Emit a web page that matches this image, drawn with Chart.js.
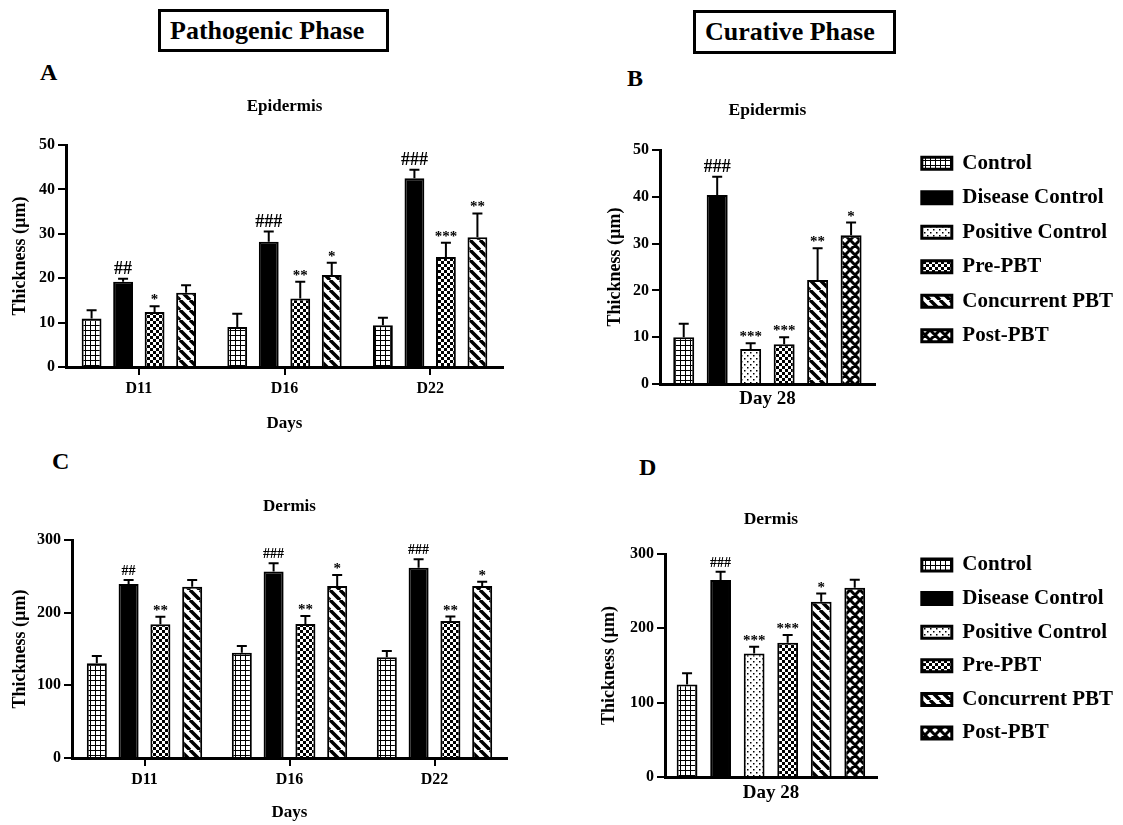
<!DOCTYPE html>
<html>
<head>
<meta charset="utf-8">
<script src="https://cdn.jsdelivr.net/npm/chart.js@4.4.1/dist/chart.umd.min.js"></script>
<style>
  body { margin: 0; background: #fff; }
  #page { position: relative; width: 1123px; height: 825px; overflow: hidden;
          font-family: 'Liberation Serif', 'Times New Roman', serif; font-weight: bold; color: #000; }
  .phase { position: absolute; box-sizing: border-box; border: 3px solid #000;
           font-size: 26px; line-height: 37px; padding-left: 9px; white-space: nowrap; }
  .letter { position: absolute; font-size: 24px; line-height: 24px; }
  canvas { position: absolute; }
</style>
</head>
<body>
<div id="page">
  <div class="phase" style="left:158px;top:9px;width:231px;height:43px">Pathogenic Phase</div>
  <div class="phase" style="left:693px;top:10px;width:203px;height:44px">Curative Phase</div>
  <div class="letter" style="left:40px;top:60px">A</div>
  <div class="letter" style="left:627px;top:66px">B</div>
  <div class="letter" style="left:52px;top:449px">C</div>
  <div class="letter" style="left:639px;top:455px">D</div>
  <canvas id="chartA" width="520" height="347" style="left:0;top:90px"></canvas>
  <canvas id="chartB" width="533" height="319" style="left:590px;top:90px"></canvas>
  <canvas id="chartC" width="520" height="345" style="left:0;top:480px"></canvas>
  <canvas id="chartD" width="533" height="338" style="left:590px;top:480px"></canvas>
</div>
<script>
// ---- data ----
const dayLabels = ['D11', 'D16', 'D22']
const day28Label = ['Day 28']
const groupNames = ['Control', 'Disease Control', 'Positive Control', 'Pre-PBT', 'Concurrent PBT', 'Post-PBT']

// A: epidermis, pathogenic phase (mean, sd, significance marks)
const epiControl = [10.9, 9.0, 9.4]
const epiControlSd = [1.9, 3.0, 1.7]
const epiDisease = [19.2, 28.2, 42.5]
const epiDiseaseSd = [0.7, 2.3, 1.9]
const epiPre = [12.4, 15.4, 24.8]
const epiPreSd = [1.3, 3.8, 3.2]
const epiConc = [16.7, 20.7, 29.2]
const epiConcSd = [1.7, 2.8, 5.4]
const epiDiseaseMarks = ['##', '###', '###']
const epiPreMarks = ['*', '**', '***']
const epiConcMarks = ['', '*', '**']

// B: epidermis, curative phase, day 28 (one value per group, same order as groupNames)
const epiDay28 = [10.0, 40.4, 7.5, 8.5, 22.2, 31.8]
const epiDay28Sd = [2.9, 3.9, 1.2, 1.5, 6.8, 2.7]
const epiDay28Marks = ['', '###', '***', '***', '**', '*']

// C: dermis, pathogenic phase
const derControl = [130.5, 145.0, 138.8]
const derControlSd = [10.0, 9.3, 8.6]
const derDisease = [239.5, 256.5, 261.9]
const derDiseaseSd = [5.5, 11.5, 11.5]
const derPre = [184.0, 184.5, 188.7]
const derPreSd = [10.5, 11.0, 6.0]
const derConc = [235.8, 236.7, 236.7]
const derConcSd = [9.0, 15.0, 6.0]
const derDiseaseMarks = ['##', '###', '###']
const derPreMarks = ['**', '**', '**']
const derConcMarks = ['', '*', '*']

// D: dermis, curative phase, day 28
const derDay28 = [124.5, 265.0, 166.2, 180.5, 235.8, 254.7]
const derDay28Sd = [15.0, 11.0, 9.0, 10.5, 11.0, 10.5]
const derDay28Marks = ['', '###', '***', '***', '*', '']

// ---- fills ----
function pattern(kind) {
  const size = { grid: 5, dots: 6, checker: 6, stripes: 10, diamonds: 10 }[kind]
  const c = document.createElement('canvas')
  c.width = size
  c.height = size
  const g = c.getContext('2d')
  g.fillStyle = '#fff'
  g.fillRect(0, 0, size, size)
  g.fillStyle = '#000'
  g.strokeStyle = '#000'
  if (kind === 'grid') {
    g.fillRect(0, 0, size, 1)
    g.fillRect(0, 0, 1, size)
  } else if (kind === 'dots') {
    g.fillRect(1, 1, 1.5, 1.5)
    g.fillRect(4, 4, 1.5, 1.5)
  } else if (kind === 'checker') {
    g.fillRect(0, 0, 3, 3)
    g.fillRect(3, 3, 3, 3)
  } else if (kind === 'stripes') {
    g.lineWidth = 3.5
    g.beginPath()
    for (let k = -1; k <= 1; k++) {
      g.moveTo(k * size, 0)
      g.lineTo(k * size + size, size)
    }
    g.stroke()
  } else if (kind === 'diamonds') {
    g.lineWidth = 3
    g.beginPath()
    for (let k = -1; k <= 1; k++) {
      g.moveTo(k * size, 0)
      g.lineTo(k * size + size, size)
      g.moveTo(k * size + size, 0)
      g.lineTo(k * size, size)
    }
    g.stroke()
  }
  return g.createPattern(c, 'repeat')
}

const fills = [pattern('grid'), '#000', pattern('dots'), pattern('checker'), pattern('stripes'), pattern('diamonds')]

// ---- chart setup ----
Chart.defaults.font.family = "'Liberation Serif', 'Times New Roman', serif"
Chart.defaults.font.weight = 'bold'
Chart.defaults.color = '#000'

const errorBars = {
  id: 'errorBars',
  afterDatasetsDraw(chart, args, opts) {
    const ctx = chart.ctx
    const y = chart.scales.y
    chart.data.datasets.forEach((ds, di) => {
      chart.getDatasetMeta(di).data.forEach((bar, i) => {
        const top = y.getPixelForValue(ds.data[i] + ds.sd[i])
        ctx.save()
        ctx.strokeStyle = '#000'
        ctx.lineWidth = 2
        ctx.beginPath()
        ctx.moveTo(bar.x, bar.y)
        ctx.lineTo(bar.x, top)
        ctx.moveTo(bar.x - 5, top)
        ctx.lineTo(bar.x + 5, top)
        ctx.stroke()
        const mark = ds.marks[i]
        if (mark) {
          const hash = mark[0] === '#'
          ctx.fillStyle = '#000'
          ctx.textAlign = 'center'
          ctx.textBaseline = 'alphabetic'
          ctx.font = 'bold ' + (hash ? opts.hashSize : 15) + "px 'Liberation Serif', serif"
          ctx.fillText(mark, bar.x, top - (hash ? 5 : 2))
        }
        ctx.restore()
      })
    })
  }
}

function bar(label, data, sd, marks, fill) {
  return { label: label, data: data, sd: sd, marks: marks, backgroundColor: fill, borderColor: '#000', borderWidth: 2 }
}

function buildChart(id, labels, datasets, o) {
  const x = {
    offset: true,
    ticks: { font: { size: o.xFont }, padding: o.xTickPad },
    grid: { offset: false, drawOnChartArea: false, drawTicks: o.xTicks, tickLength: 8, color: '#000', lineWidth: 2 },
    border: { display: true, color: '#000', width: 3 },
    title: { display: !!o.xTitle, text: o.xTitle, font: { size: 17 }, padding: { top: 0, bottom: o.xTitlePad } },
    afterFit: s => { s.height = o.xHeight }
  }
  const scales = {
    x: x,
    y: {
      min: 0, max: o.max,
      ticks: { stepSize: o.step, font: { size: 16 }, padding: 3 },
      grid: { drawOnChartArea: false, tickLength: 8, color: '#000', lineWidth: 2 },
      border: { display: true, color: '#000', width: 3 },
      title: { display: true, text: 'Thickness (µm)', font: { size: 18 }, padding: { top: o.yTitlePad, bottom: 0 } },
      afterFit: s => { s.width = o.yWidth }
    }
  }
  if (o.legend) {
    // empty axis that only keeps the gap between the plot and the legend
    scales.gap = {
      type: 'linear', position: 'right', display: true,
      ticks: { display: false }, grid: { display: false }, border: { display: false },
      afterFit: s => { s.width = o.gap }
    }
  }
  return new Chart(document.getElementById(id), {
    type: 'bar',
    data: { labels: labels, datasets: datasets },
    options: {
      responsive: false,
      animation: false,
      layout: { padding: { right: o.padRight || 0 } },
      datasets: { bar: { categoryPercentage: o.cat, barPercentage: o.bar } },
      scales: scales,
      plugins: {
        title: { display: true, text: o.title, fullSize: false, font: { size: o.titleSize }, padding: { top: o.titleTop, bottom: o.titleBottom } },
        legend: {
          display: !!o.legend, position: 'right', align: 'center', maxWidth: 240,
          labels: {
            boxWidth: 30, boxHeight: 12, padding: o.legendPad, font: { size: 21 }, color: '#000',
            generateLabels: chart => Chart.defaults.plugins.legend.labels.generateLabels(chart).map(l => Object.assign(l, { lineWidth: 3 }))
          }
        },
        tooltip: { enabled: false },
        errorBars: { hashSize: o.hashSize }
      }
    },
    plugins: [errorBars]
  })
}

buildChart('chartA', dayLabels, [
  bar(groupNames[0], epiControl, epiControlSd, ['', '', ''], fills[0]),
  bar(groupNames[1], epiDisease, epiDiseaseSd, epiDiseaseMarks, fills[1]),
  bar(groupNames[3], epiPre, epiPreSd, epiPreMarks, fills[3]),
  bar(groupNames[4], epiConc, epiConcSd, epiConcMarks, fills[4])
], {
  title: 'Epidermis', titleSize: 17, titleTop: 6.8, titleBottom: 27.8,
  max: 50, step: 10, yWidth: 66, yTitlePad: 9.2, padRight: 17,
  xFont: 16, xTicks: true, xTickPad: 4, xTitle: 'Days', xTitlePad: 2.8, xHeight: 70,
  cat: 0.865, bar: 0.63, hashSize: 18
})

buildChart('chartB', day28Label, groupNames.map((g, i) =>
  bar(g, [epiDay28[i]], [epiDay28Sd[i]], [epiDay28Marks[i]], fills[i])
), {
  title: 'Epidermis', titleSize: 17.5, titleTop: 9.5, titleBottom: 29.5,
  max: 50, step: 10, yWidth: 70, yTitlePad: 14.2,
  xFont: 19, xTicks: false, xTickPad: 3.6, xHeight: 25,
  cat: 0.935, bar: 0.627, hashSize: 18,
  legend: true, legendPad: 13.5, gap: 33.5
})

buildChart('chartC', dayLabels, [
  bar(groupNames[0], derControl, derControlSd, ['', '', ''], fills[0]),
  bar(groupNames[1], derDisease, derDiseaseSd, derDiseaseMarks, fills[1]),
  bar(groupNames[3], derPre, derPreSd, derPreMarks, fills[3]),
  bar(groupNames[4], derConc, derConcSd, derConcMarks, fills[4])
], {
  title: 'Dermis', titleSize: 17, titleTop: 16.3, titleBottom: 23.3,
  max: 300, step: 100, yWidth: 72, yTitlePad: 9.2, padRight: 13,
  xFont: 16, xTicks: true, xTickPad: 4.4, xTitle: 'Days', xTitlePad: 1.8, xHeight: 67,
  cat: 0.877, bar: 0.63, hashSize: 14
})

buildChart('chartD', day28Label, groupNames.map((g, i) =>
  bar(g, [derDay28[i]], [derDay28Sd[i]], [derDay28Marks[i]], fills[i])
), {
  title: 'Dermis', titleSize: 17.5, titleTop: 28.5, titleBottom: 24.5,
  max: 300, step: 100, yWidth: 75, yTitlePad: 8.7,
  xFont: 19, xTicks: false, xTickPad: 4.6, xHeight: 41,
  cat: 0.95, bar: 0.62, hashSize: 14,
  legend: true, legendPad: 12.6, gap: 32.4
})
</script>
</body>
</html>
